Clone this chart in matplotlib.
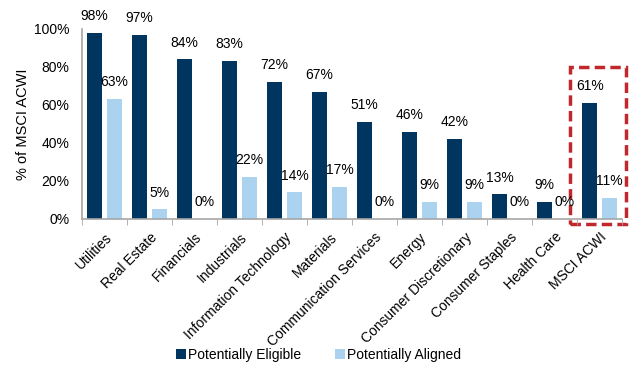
import numpy as np
import matplotlib.pyplot as plt
from matplotlib.patches import Rectangle

plt.rcParams['font.family'] = ['Liberation Sans', 'DejaVu Sans']

sectors = ['Utilities', 'Real Estate', 'Financials', 'Industrials',
           'Information Technology', 'Materials', 'Communication Services',
           'Energy', 'Consumer Discretionary', 'Consumer Staples',
           'Health Care', 'MSCI ACWI']
eligible = [98, 97, 84, 83, 72, 67, 51, 46, 42, 13, 9, 61]
aligned = [63, 5, 0, 22, 14, 17, 0, 9, 9, 0, 0, 11]

dark = '#003560'
light = '#ABD3F0'
grey = '#A6A6A6'

fig = plt.figure(figsize=(6.31, 3.65), dpi=100)
ax = fig.add_axes([0.130, 0.400, 0.856, 0.521])

x = np.arange(len(sectors))
off = 0.222
w = 0.333
b1 = ax.bar(x - off, eligible, w, color=dark, label='Potentially Eligible')
b2 = ax.bar(x + off, aligned, w, color=light, label='Potentially Aligned')

for bars, vals in ((b1, eligible), (b2, aligned)):
    for r, v in zip(bars, vals):
        ax.annotate(f'{v}%', (r.get_x() + r.get_width() / 2, v),
                    xytext=(0, 7), textcoords='offset points',
                    ha='center', va='bottom', fontsize=10, annotation_clip=False)

ax.set_xlim(-0.5, len(sectors) - 0.5)
ax.set_ylim(0, 100)
ax.set_yticks(range(0, 101, 20))
ax.set_yticklabels([f'{t}%' for t in range(0, 101, 20)], fontsize=10)
ax.set_ylabel('% of MSCI ACWI', fontsize=10.5, labelpad=3)

ax.set_xticks(x)
ax.set_xticklabels(sectors, rotation=45, ha='right', rotation_mode='anchor', fontsize=10)
ax.set_xticks(np.arange(-0.5, len(sectors)), minor=True)
ax.tick_params(axis='x', which='major', length=0, pad=8)
ax.tick_params(axis='x', which='minor', length=4, color=grey, direction='out')
ax.tick_params(axis='y', length=0, pad=9)

for s in ['top', 'right']:
    ax.spines[s].set_visible(False)
for s in ['left', 'bottom']:
    ax.spines[s].set_color(grey)
    ax.spines[s].set_linewidth(1.2)

# dashed highlight around MSCI ACWI
box = Rectangle((10.34, -2.6), 1.25, 82.6, fill=False, edgecolor='#C0282D',
                linestyle=(0, (3, 1.5)), linewidth=2.5, clip_on=False)
ax.add_patch(box)

fig.legend(handles=[b1, b2], loc='lower center', bbox_to_anchor=(0.505, -0.025),
           ncol=2, frameon=False, fontsize=10, handlelength=0.7,
           handleheight=0.7, handletextpad=0.2, columnspacing=2.4)

fig.savefig('out.png', dpi=100)
